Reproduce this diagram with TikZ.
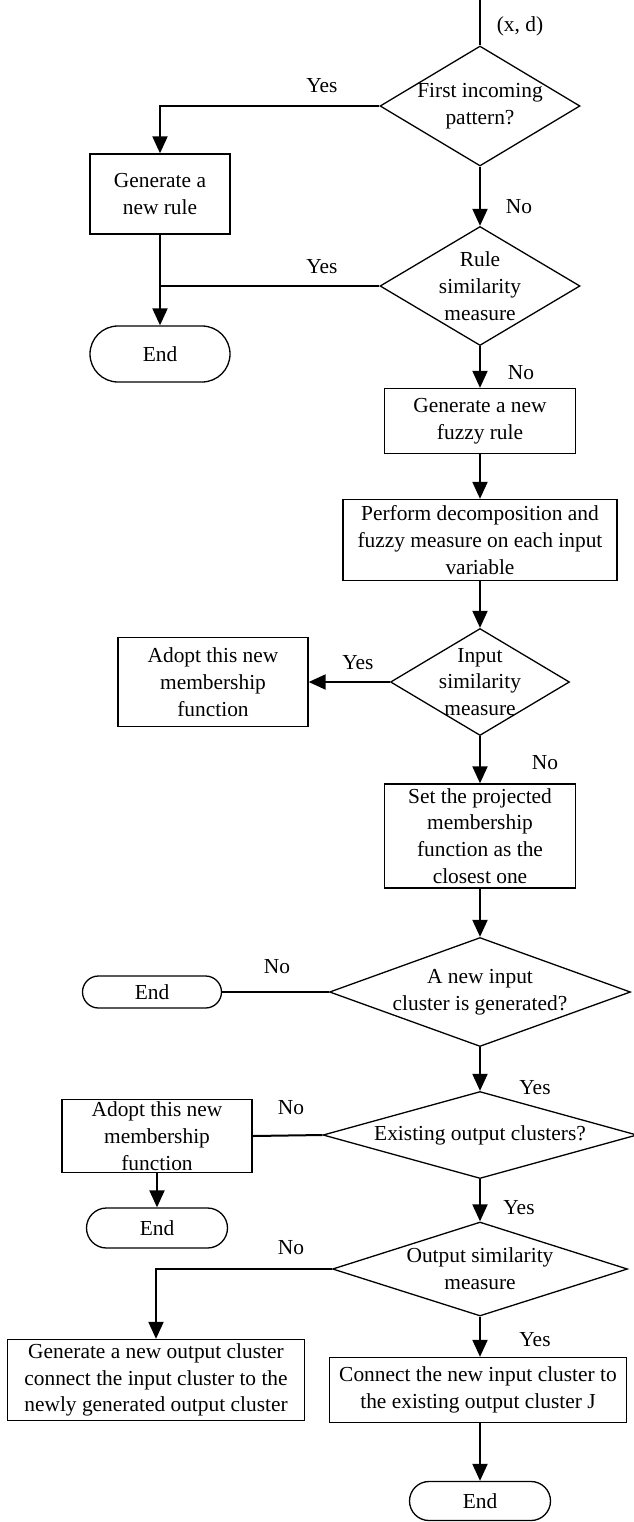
\documentclass[tikz,border=0pt]{standalone}
\usepackage{fontspec}
\setmainfont{Liberation Serif}
\usetikzlibrary{shapes.geometric,shapes.misc,arrows.meta}

\begin{document}
\begin{tikzpicture}[x=1pt,y=-1pt,font=\fontsize{21.4}{26.7}\selectfont,
  block/.style 2 args={draw,line width=1.3pt,minimum width=#1,minimum height=#2,inner sep=0pt,align=center},
  decision/.style 2 args={diamond,draw,line width=1.3pt,minimum width=#1,minimum height=#2,inner sep=0pt},
  terminal/.style 2 args={rounded rectangle,draw,line width=1.3pt,minimum width=#1,minimum height=#2,inner sep=0pt},
  tag/.style={inner sep=0pt},
  flow/.style={line width=2pt,-{Triangle[width=15pt,length=17pt]}},
  link/.style={line width=2pt}]

\useasboundingbox (0,0) rectangle (633,1522) ;

\coordinate (in) at (480,0) ;
\node[tag] (xd) at (520,26) {(x, d)} ;

\node[decision={200pt}{120pt},label={[align=center]center:{First incoming\\pattern?}}] (d1) at (480,106) {} ;
\node[block={140pt}{80pt}] (r1) at (160,194) {Generate a\\new rule} ;
\node[decision={200pt}{119pt},label={[align=center]center:{Rule\\similarity\\measure}}] (d2) at (480,286) {} ;
\node[terminal={140pt}{56pt}] (end1) at (160,354) {End} ;
\node[block={191pt}{65pt}] (r2) at (480,421) {Generate a new\\fuzzy rule} ;
\node[block={274pt}{81pt}] (r3) at (480,540) {Perform decomposition and\\fuzzy measure on each input\\variable} ;
\node[decision={179pt}{107pt},label={[align=center]center:{Input\\similarity\\measure}}] (d3) at (480,682) {} ;
\node[block={190pt}{89pt}] (r4) at (213,682) {Adopt this new\\membership\\function} ;
\node[block={191pt}{104pt}] (r5) at (480,836) {Set the projected\\membership\\function as the\\closest one} ;
\node[decision={301pt}{109pt},label={[align=center]center:{A new input\\cluster is generated?}}] (d4) at (480,992) {} ;
\node[terminal={139pt}{32pt}] (end2) at (152,992) {End} ;
\node[decision={314pt}{87pt},label={center:{Existing output clusters?}}] (d5) at (480,1135) {} ;
\node[block={190pt}{73pt}] (r6) at (157,1136) {Adopt this new\\membership\\function} ;
\node[terminal={141pt}{40pt}] (end3) at (157,1228) {End} ;
\node[decision={295pt}{94pt},label={[align=center]center:{Output similarity\\measure}}] (d6) at (480,1269) {} ;
\node[block={297pt}{81pt}] (r7) at (156,1380) {Generate a new output cluster\\connect the input cluster to the\\newly generated output cluster} ;
\node[block={297pt}{65pt}] (r8) at (478,1390) {Connect the new input cluster to\\the existing output cluster J} ;
\node[terminal={141pt}{39pt}] (end4) at (480,1501) {End} ;

\node[tag] (yes1) at (322,86) {Yes} ;
\node[tag] (no1) at (519,207) {No} ;
\node[tag] (yes2) at (322,267) {Yes} ;
\node[tag] (no2) at (521,373) {No} ;
\node[tag] (yes3) at (358,663) {Yes} ;
\node[tag] (no3) at (545,763) {No} ;
\node[tag] (no4) at (277,967) {No} ;
\node[tag] (yes4) at (535,1088) {Yes} ;
\node[tag] (no5) at (291,1108) {No} ;
\node[tag] (yes5) at (519,1208) {Yes} ;
\node[tag] (no6) at (291,1248) {No} ;
\node[tag] (yes6) at (535,1340) {Yes} ;

\draw[link] (in) -- (d1.north) ;
\draw[flow] (d1.west) -| (r1.north) ;
\draw[flow] (d1.south) -- (d2.north) ;
\draw[link] (d2.west) -- (r1.south |- d2.west) ;
\draw[flow] (r1.south) -- (end1.north) ;
\draw[flow] (d2.south) -- (r2.north) ;
\draw[flow] (r2.south) -- (r3.north) ;
\draw[flow] (r3.south) -- (d3.north) ;
\draw[flow] (d3.west) -- (r4.east) ;
\draw[flow] (d3.south) -- (r5.north) ;
\draw[flow] (r5.south) -- (d4.north) ;
\draw[link] (d4.west) -- (end2.east) ;
\draw[flow] (d4.south) -- (d5.north) ;
\draw[link] (d5.west) -- (r6.east) ;
\draw[flow] (r6.south) -- (end3.north) ;
\draw[flow] (d5.south) -- (d6.north) ;
\draw[flow] (d6.west) -| (r7.north) ;
\draw[flow] (d6.south) -- (d6.south |- r8.north) ;
\draw[flow] (r8.south -| end4.north) -- (end4.north) ;

\end{tikzpicture}
\end{document}
